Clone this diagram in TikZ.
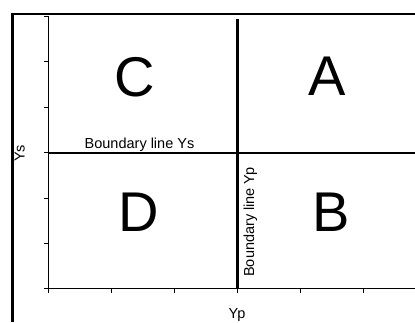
\documentclass[tikz,border=0pt]{standalone}
\usepackage{fontspec}
\setmainfont{Liberation Sans}
\usetikzlibrary{positioning}

\tikzset{
  quadlabel/.style={inner sep=0pt,font=\fontsize{56}{56}\selectfont},
  smalllabel/.style={inner sep=0pt,font=\fontsize{14.5}{15}\selectfont},
  frameline/.style={line width=2.6pt},
  axisline/.style={line width=1.7pt},
  boundline/.style={line width=2.3pt},
  tickline/.style={line width=0.9pt}
}

\begin{document}
\begin{tikzpicture}[x=1pt,y=-1pt]
    % Page frame
\useasboundingbox (0,0) rectangle (415,322);
\fill[white] (0,0) rectangle (415,322);
\coordinate (frameBL) at (12.5,322);
\coordinate (frameTL) at (12.5,14);
\coordinate (frameTR) at (415,14);
\draw[frameline] (frameBL) -- (frameTL) -- (frameTR);
    % Axes and ticks
\coordinate (origin) at (48.5,288.5);
\coordinate (ytop) at (48.5,16);
\coordinate (xend) at (415,288.5);
\draw[axisline] (ytop) -- (origin) -- (xend);
\foreach \ty in {16,61.5,107,152.5,198,243,288.5}
  \draw[tickline] (44,\ty) -- (48.5,\ty);
\foreach \tx in {48.5,111.5,174.5,237.5,300.5,363.5}
  \draw[tickline] (\tx,288.5) -- (\tx,292.5);
    % Boundary lines
\coordinate (ypTop) at (237.5,19);
\coordinate (ypBot) at (237.5,288.5);
\coordinate (ysLeft) at (48.5,152.7);
\coordinate (ysRight) at (415,152.7);
\draw[boundline] (ypTop) -- (ypBot);
\draw[boundline] (ysLeft) -- (ysRight);
    % Quadrant labels
\node[quadlabel] (quadC) at (135,77) {C};
\node[quadlabel] (quadA) at (327,76) {A};
\node[quadlabel] (quadD) at (138.5,212) {D};
\node[quadlabel] (quadB) at (331,212) {B};
    % Axis and boundary texts
\node[smalllabel,anchor=base] (lineYs) at (139.5,148) {Boundary line Ys};
\node[smalllabel,anchor=base,rotate=90] (lineYp) at (254,222) {Boundary line Yp};
\node[smalllabel,anchor=base,rotate=90] (axisYs) at (24.5,153.5) {Ys};
\node[smalllabel,anchor=base] (axisYp) at (237,318.3) {Yp};
\end{tikzpicture}
\end{document}
